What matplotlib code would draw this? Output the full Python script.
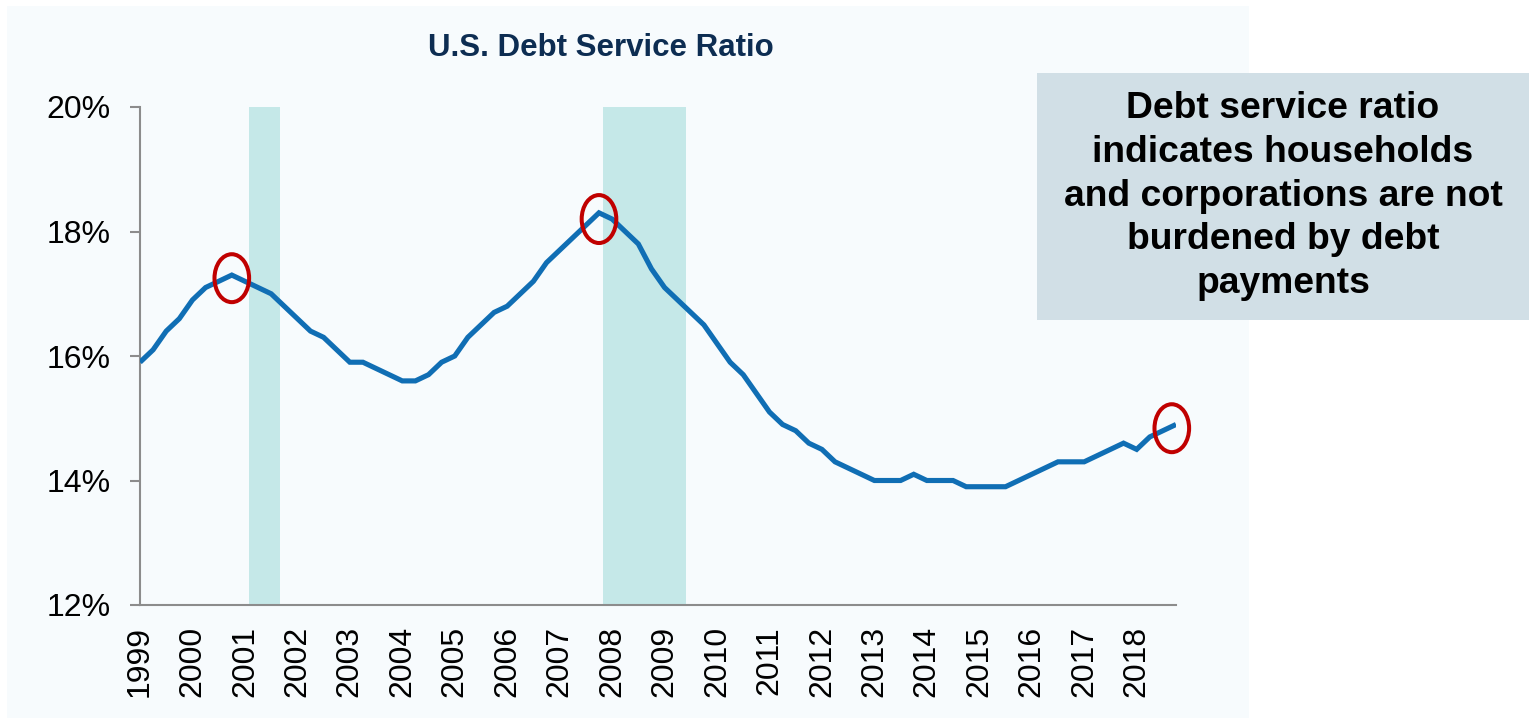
import matplotlib
matplotlib.use("Agg")
import matplotlib.pyplot as plt
from matplotlib.patches import Ellipse, Rectangle

# Quarterly debt service ratio (%), 1999 Q1 - 2018 Q4
ratio = [
    15.9, 16.1, 16.4, 16.6,   # 1999
    16.9, 17.1, 17.2, 17.3,   # 2000
    17.2, 17.1, 17.0, 16.8,   # 2001
    16.6, 16.4, 16.3, 16.1,   # 2002
    15.9, 15.9, 15.8, 15.7,   # 2003
    15.6, 15.6, 15.7, 15.9,   # 2004
    16.0, 16.3, 16.5, 16.7,   # 2005
    16.8, 17.0, 17.2, 17.5,   # 2006
    17.7, 17.9, 18.1, 18.3,   # 2007
    18.2, 18.0, 17.8, 17.4,   # 2008
    17.1, 16.9, 16.7, 16.5,   # 2009
    16.2, 15.9, 15.7, 15.4,   # 2010
    15.1, 14.9, 14.8, 14.6,   # 2011
    14.5, 14.3, 14.2, 14.1,   # 2012
    14.0, 14.0, 14.0, 14.1,   # 2013
    14.0, 14.0, 14.0, 13.9,   # 2014
    13.9, 13.9, 13.9, 14.0,   # 2015
    14.1, 14.2, 14.3, 14.3,   # 2016
    14.3, 14.4, 14.5, 14.6,   # 2017
    14.5, 14.7, 14.8, 14.9,   # 2018
]
start_year = 1999
years = list(range(1999, 2019))
quarters = [start_year + i / 4 for i in range(len(ratio))]

# Recession periods (fractional years)
recessions = [(2001.08, 2001.67), (2007.82, 2009.40)]

# Points circled on the chart (quarter index)
highlights = [7, 35, 79]

y_ticks = [12, 14, 16, 18, 20]
y_tick_labels = ["12%", "14%", "16%", "18%", "20%"]

title = "U.S. Debt Service Ratio"
note = ("Debt service ratio\nindicates households\nand corporations are not\n"
        "burdened by debt\npayments")

W, H = 1529, 720
plt.rcParams["font.family"] = ["Liberation Sans", "DejaVu Sans"]

fig = plt.figure(figsize=(W / 100, H / 100), dpi=100)
fig.patch.set_facecolor("white")

# light panel behind the chart
panel_bg = "#F7FBFD"
fig.patches.append(Rectangle((7 / W, 1 - 718 / H), (1249 - 7) / W, (718 - 6) / H,
                             transform=fig.transFigure, facecolor=panel_bg,
                             edgecolor="none", zorder=-1))

left, right, top, bottom = 140, 1176, 107, 605
ax = fig.add_axes([left / W, 1 - bottom / H, (right - left) / W, (bottom - top) / H])
ax.set_zorder(1)
ax.set_facecolor(panel_bg)

for x0, x1 in recessions:
    ax.axvspan(x0, x1, ymin=-0.003, ymax=1, color="#C5E8E8", lw=0, zorder=1, clip_on=False)

ax.plot(quarters, ratio, color="#106EB4", lw=3.7, solid_joinstyle="miter",
        solid_capstyle="butt", zorder=3)

offsets = {7: (0.0, -0.05), 35: (0.0, -0.1), 79: (-0.08, -0.06)}
for i in highlights:
    dx, dy = offsets[i]
    ax.add_patch(Ellipse((quarters[i] + dx, ratio[i] + dy), 0.66, 0.77,
                         facecolor="none", edgecolor="#C00000", lw=2.9,
                         zorder=4, clip_on=False))

ax.set_xlim(quarters[0], quarters[-1])
ax.set_ylim(12, 20)
ax.set_yticks(y_ticks)
ax.set_yticklabels(y_tick_labels, fontsize=23)
ax.set_xticks(years)
ax.set_xticklabels([str(y) for y in years], rotation=90, fontsize=23)
ax.tick_params(axis="y", length=7.2, width=1.5, color="#8C8C8C", pad=14)
ax.tick_params(axis="x", length=0, pad=15)

for s in ["top", "right"]:
    ax.spines[s].set_visible(False)
for s in ["left", "bottom"]:
    ax.spines[s].set_color("#8C8C8C")
    ax.spines[s].set_linewidth(1.5)
    ax.spines[s].set_zorder(2)

fig.text(601 / W, 1 - 48 / H, title, ha="center", va="center",
         fontsize=22.5, fontweight="bold", color="#0D2D52")

# side note box
fig.patches.append(Rectangle((1037 / W, 1 - 320 / H), (W - 1037) / W, (320 - 73) / H,
                             transform=fig.transFigure, facecolor="#D1DFE6",
                             edgecolor="none", zorder=5))
fig.text(1283 / W, 1 - 196 / H, note, ha="center", va="center", fontsize=26.8,
         fontweight="bold", color="black", linespacing=1.32, zorder=6)

fig.savefig("out.png", dpi=100, facecolor=fig.get_facecolor())
